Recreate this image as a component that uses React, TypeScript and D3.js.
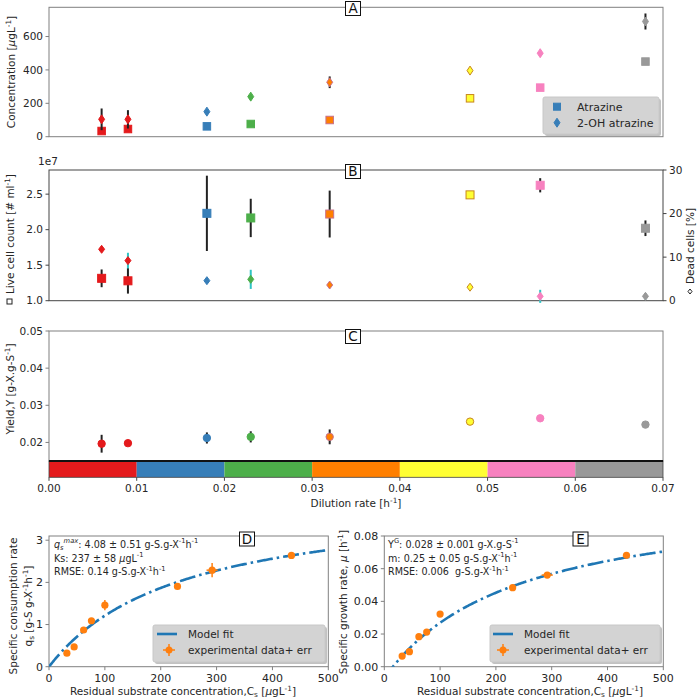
import React from 'react';
import * as d3 from 'd3';

// ---------- data ----------
const dilution = [0.006, 0.009, 0.018, 0.023, 0.032, 0.048, 0.056, 0.068];
const pointColors = ['#e41a1c', '#e41a1c', '#377eb8', '#4daf4a', '#ff7f00', '#ffff33', '#f781bf', '#999999'];
const edgeColors = ['#e41a1c', '#e41a1c', '#377eb8', '#4daf4a', '#c8708a', '#c8861e', '#f781bf', '#999999'];

const atrazine = [34, 46, 62, 76, 100, 230, 294, 450];
const hydroxyAtrazine = [104, 104, 150, 240, 326, 396, 500, 690];
const hydroxyAtrazineErr = [65, 55, 8, 8, 35, 5, 8, 48];

const liveCells = [1.315, 1.28, 2.23, 2.165, 2.22, 2.49, 2.625, 2.02]; // x 1e7
const liveCellsErr = [0.125, 0.18, 0.53, 0.27, 0.33, 0.03, 0.1, 0.11];
const deadCells = [11.8, 9.2, 4.6, 4.9, 3.6, 3.1, 1.0, 1.0];
const deadCellsErr = [0.5, 1.8, 0.5, 2.2, 0.5, 0.3, 1.5, 0.7];

const yieldVals = [0.01965, 0.0198, 0.0212, 0.0215, 0.0215, 0.0256, 0.0265, 0.0248];
const yieldErr = [0.0024, 0, 0.0015, 0.0015, 0.002, 0, 0, 0];

const colorbarBins = [0, 0.01, 0.02, 0.03, 0.04, 0.05, 0.06, 0.07];
const colorbarColors = ['#e41a1c', '#377eb8', '#4daf4a', '#ff7f00', '#ffff33', '#f781bf', '#999999'];

const residualCs = [32, 45, 62, 76, 100, 230, 292, 434];
const residualCsErr = [2, 2, 2, 3, 3, 4, 10, 5];
const qsVals = [0.32, 0.47, 0.87, 1.09, 1.46, 1.905, 2.29, 2.64];
const qsErr = [0.03, 0.03, 0.05, 0.05, 0.12, 0.05, 0.17, 0.05];
const muVals = [0.0065, 0.0092, 0.0184, 0.0212, 0.0322, 0.0484, 0.0561, 0.0682];
const muErr = [0.0015, 0.0015, 0.0015, 0.0015, 0.0018, 0.0015, 0.0015, 0.0015];

const qsMax = 4.08;
const Ks = 237;
const YG = 0.028;
const mMaint = 0.25;

const ticksA = [0, 200, 400, 600];
const ticksBLeft = [1.0, 1.5, 2.0, 2.5];
const ticksBRight = [0, 10, 20, 30];
const ticksC = [0.02, 0.03, 0.04, 0.05];
const ticksDil = [0, 0.01, 0.02, 0.03, 0.04, 0.05, 0.06, 0.07];
const ticksCs = [0, 100, 200, 300, 400, 500];
const ticksQs = [0, 1, 2, 3];
const ticksMu = [0, 0.02, 0.04, 0.06, 0.08];

// ---------- helpers ----------
const FONT = 'DejaVu Sans, sans-serif';
const TXT = '#262626';

type Part = [string, string?];

function Rich({ x, y, parts, size, anchor = 'start', rotate = 0, fill = TXT }:
  { x: number; y: number; parts: Part[]; size: number; anchor?: string; rotate?: number; fill?: string }) {
  const off = (m: string) => (m.includes('^') ? -size * 0.42 : m.includes('_') ? size * 0.22 : 0);
  let prev = '';
  const kids = parts.map(([t, m = ''], i) => {
    const dy = off(m) - off(prev);
    prev = m;
    const small = m.includes('^') || m.includes('_');
    return (
      <tspan key={i} dy={dy} fontSize={small ? size * 0.7 : size} fontStyle={m.includes('i') ? 'italic' : 'normal'}>
        {t}
      </tspan>
    );
  });
  return (
    <text x={x} y={y} fontSize={size} fill={fill} fontFamily={FONT} textAnchor={anchor as any}
      transform={rotate ? `rotate(${rotate},${x},${y})` : undefined} style={{ whiteSpace: 'pre' }}>
      {kids}
    </text>
  );
}

function Frame({ x0, x1, y0, y1, color = '#808080' }: any) {
  return <rect x={x0} y={y0} width={x1 - x0} height={y1 - y0} fill="none" stroke={color} strokeWidth={1} />;
}

function YTicks({ scale, ticks, x, fmt, side = 'left', color = '#808080', size = 10.5 }: any) {
  return (
    <g>
      {ticks.map((t: number, i: number) => {
        const y = scale(t);
        const dir = side === 'left' ? -1 : 1;
        return (
          <g key={i}>
            <line x1={x} x2={x + dir * 3.5} y1={y} y2={y} stroke={color} />
            <text x={x + dir * 6} y={y} dy="0.35em" fontSize={size} fill={TXT} fontFamily={FONT}
              textAnchor={side === 'left' ? 'end' : 'start'}>{fmt(t)}</text>
          </g>
        );
      })}
    </g>
  );
}

function XTicks({ scale, ticks, y, fmt, color = '#808080', size = 10.5 }: any) {
  return (
    <g>
      {ticks.map((t: number, i: number) => {
        const x = scale(t);
        return (
          <g key={i}>
            <line x1={x} x2={x} y1={y} y2={y + 3.5} stroke={color} />
            <text x={x} y={y + 6} dy="0.8em" fontSize={size} fill={TXT} fontFamily={FONT} textAnchor="middle">{fmt(t)}</text>
          </g>
        );
      })}
    </g>
  );
}

function Square({ x, y, s, fill, stroke }: any) {
  return <rect x={x - s / 2} y={y - s / 2} width={s} height={s} fill={fill} stroke={stroke} strokeWidth={1} />;
}
function Diamond({ x, y, w, h, fill, stroke }: any) {
  return <polygon points={`${x},${y - h / 2} ${x + w / 2},${y} ${x},${y + h / 2} ${x - w / 2},${y}`} fill={fill} stroke={stroke} strokeWidth={1} />;
}

function PanelLabel({ x, y, label }: any) {
  return (
    <g>
      <rect x={x - 7.5} y={y - 7} width={15} height={14} fill="#fff" stroke="#111" strokeWidth={1} />
      <text x={x} y={y} dy="0.36em" fontSize={13.5} fontFamily={FONT} textAnchor="middle" fill="#111">{label}</text>
    </g>
  );
}

function VErr({ x, y0, y1, color, w = 2 }: any) {
  return <line x1={x} x2={x} y1={y0} y2={y1} stroke={color} strokeWidth={w} />;
}

export default function App() {
  const xDil = d3.scaleLinear().domain([0, 0.07]).range([49, 663]);

  // Panel A
  const yA = d3.scaleLinear().domain([0, 775]).range([136.7, 7.3]);
  // Panel B
  const yB = d3.scaleLinear().domain([1.0, 2.84]).range([300.7, 170]);
  const yB2 = d3.scaleLinear().domain([0, 30]).range([300.7, 170]);
  // Panel C
  const yC = d3.scaleLinear().domain([0.015, 0.05]).range([461, 331]);
  // Panel D
  const xD = d3.scaleLinear().domain([0, 500]).range([49, 328.3]);
  const yD = d3.scaleLinear().domain([0, 3.1]).range([666.7, 536]);
  // Panel E
  const xE = d3.scaleLinear().domain([0, 500]).range([384.3, 663.3]);
  const yE = d3.scaleLinear().domain([0, 0.08]).range([666.7, 536]);

  const csGrid = d3.range(0, 501, 2);
  const qsModel = (c: number) => (qsMax * c) / (Ks + c);
  const muModel = (c: number) => YG * (qsModel(c) - mMaint);

  const lineD = d3.line<number>().x((c) => xD(c)).y((c) => yD(qsModel(c)));
  const lineE = d3.line<number>().x((c) => xE(c)).y((c) => yE(muModel(c)));

  const blue = '#1f77b4';
  const orange = '#ff7f0e';
  const dash = '16,4,2.5,4';

  const fmt0 = d3.format('d');
  const fmt1 = d3.format('.1f');
  const fmt2 = d3.format('.2f');

  const errMarker = (x: number, y: number, key: any) => (
    <g key={key}>
      <line x1={x - 6} x2={x + 6} y1={y} y2={y} stroke={orange} strokeWidth={1.5} />
      <line x1={x} x2={x} y1={y - 6} y2={y + 6} stroke={orange} strokeWidth={1.5} />
      <circle cx={x} cy={y} r={3.5} fill={orange} />
    </g>
  );

  const ann = 9.6;

  return (
    <svg width={698} height={698} style={{ position: 'absolute', left: 0, top: 0, background: '#fff' }}
      fontFamily={FONT}>
      <defs>
        <clipPath id="clipD"><rect x={49} y={536} width={279.3} height={130.7} /></clipPath>
        <clipPath id="clipE"><rect x={384.3} y={536} width={279} height={130.7} /></clipPath>
      </defs>

      {/* ===== Panel A ===== */}
      <Frame x0={49} x1={663} y0={7.3} y1={136.7} />
      <YTicks scale={yA} ticks={ticksA} x={49} fmt={fmt0} />
      <Rich x={15} y={72} rotate={-90} anchor="middle" size={10.5}
        parts={[['Concentration ['], ['µ', 'i'], ['gL'], ['-1', '^'], [']']]} />
      {dilution.map((d, i) => (
        <g key={'a' + i}>
          <Square x={xDil(d)} y={yA(atrazine[i])} s={7.5} fill={pointColors[i]} stroke={edgeColors[i]} />
          {hydroxyAtrazineErr[i] > 0 && (
            <VErr x={xDil(d)} y0={yA(hydroxyAtrazine[i] - hydroxyAtrazineErr[i])}
              y1={yA(hydroxyAtrazine[i] + hydroxyAtrazineErr[i])} color="#222" />
          )}
          <Diamond x={xDil(d)} y={yA(hydroxyAtrazine[i])} w={6} h={9} fill={pointColors[i]} stroke={edgeColors[i]} />
        </g>
      ))}
      {/* legend A */}
      <rect x={545} y={99} width={116} height={37} rx={2} fill="#999" opacity={0.6} />
      <rect x={543} y={97} width={116} height={37} rx={2} fill="#d3d3d3" stroke="#c8c8c8" />
      <Square x={557} y={106.7} s={7} fill="#377eb8" stroke="#377eb8" />
      <Diamond x={557} y={122.7} w={6} h={9} fill="#377eb8" stroke="#377eb8" />
      <text x={577} y={106.7} dy="0.36em" fontSize={11} fill={TXT}>Atrazine</text>
      <text x={577} y={122.7} dy="0.36em" fontSize={11} fill={TXT}>2-OH atrazine</text>
      <PanelLabel x={353} y={8.5} label="A" />

      {/* ===== Panel B ===== */}
      <Frame x0={49} x1={663} y0={170} y1={300.7} color="#444" />
      <YTicks scale={yB} ticks={ticksBLeft} x={49} fmt={fmt1} color="#444" />
      <YTicks scale={yB2} ticks={ticksBRight} x={663} fmt={fmt0} side="right" color="#444" />
      <text x={38} y={165} fontSize={10.5} fill={TXT}>1e7</text>
      <g>
        <rect x={7} y={299} width={5} height={5} fill="none" stroke="#222" strokeWidth={1} />
        <Rich x={14} y={294} rotate={-90} anchor="start" size={10.5}
          parts={[['Live cell count [# ml'], ['-1', '^'], [']']]} />
      </g>
      <g>
        <Diamond x={690} y={291.5} w={4} h={5} fill="none" stroke="#222" />
        <Rich x={694} y={284} rotate={-90} anchor="start" size={10.5}
          parts={[['Dead cells [%]']]} />
      </g>
      {dilution.map((d, i) => (
        <g key={'b' + i}>
          <VErr x={xDil(d)} y0={yB(liveCells[i] - liveCellsErr[i])} y1={yB(liveCells[i] + liveCellsErr[i])} color="#222" />
          <Square x={xDil(d)} y={yB(liveCells[i])} s={8} fill={pointColors[i]} stroke={edgeColors[i]} />
          <VErr x={xDil(d)} y0={yB2(deadCells[i] - deadCellsErr[i])} y1={yB2(deadCells[i] + deadCellsErr[i])} color="#2ec4c4" />
          <Diamond x={xDil(d)} y={yB2(deadCells[i])} w={6} h={8} fill={pointColors[i]} stroke={edgeColors[i]} />
        </g>
      ))}
      <PanelLabel x={353} y={171.5} label="B" />

      {/* ===== Panel C ===== */}
      <Frame x0={49} x1={663} y0={331} y1={461} />
      <YTicks scale={yC} ticks={ticksC} x={49} fmt={fmt2} />
      <Rich x={14} y={389} rotate={-90} anchor="middle" size={10.5}
        parts={[['Yield,Y [g-X.g-S'], ['-1', '^'], [']']]} />
      {dilution.map((d, i) => (
        <g key={'c' + i}>
          {yieldErr[i] > 0 && (
            <VErr x={xDil(d)} y0={yC(yieldVals[i] - yieldErr[i])} y1={yC(yieldVals[i] + yieldErr[i])} color="#222" />
          )}
          <circle cx={xDil(d)} cy={yC(yieldVals[i])} r={3.7} fill={pointColors[i]} stroke={edgeColors[i]} strokeWidth={1} />
        </g>
      ))}
      <PanelLabel x={353} y={336.5} label="C" />
      {/* colorbar */}
      {colorbarColors.map((c, i) => (
        <rect key={'cb' + i} x={xDil(colorbarBins[i])} y={461} width={xDil(colorbarBins[i + 1]) - xDil(colorbarBins[i])}
          height={16.3} fill={c} />
      ))}
      <rect x={49} y={461} width={614} height={16.3} fill="none" stroke="#444" strokeWidth={0.8} />
      <line x1={49} x2={663} y1={461} y2={461} stroke="#111" strokeWidth={1.8} />
      <XTicks scale={xDil} ticks={ticksDil} y={477.3} fmt={fmt2} color="#444" />
      <Rich x={356} y={507} anchor="middle" size={10.5}
        parts={[['Dilution rate [h'], ['-1', '^'], [']']]} />

      {/* ===== Panel D ===== */}
      <Frame x0={49} x1={328.3} y0={536} y1={666.7} />
      <YTicks scale={yD} ticks={ticksQs} x={49} fmt={fmt0} size={11} />
      <XTicks scale={xD} ticks={ticksCs} y={666.7} fmt={fmt0} size={11} />
      <Rich x={17} y={606} rotate={-90} anchor="middle" size={10.5} parts={[['Specific consumption rate']]} />
      <Rich x={32} y={606} rotate={-90} anchor="middle" size={10.5}
        parts={[['q'], ['s', '_'], [' [g-S g-X'], ['-1', '^'], ['h'], ['-1', '^'], [']']]} />
      <Rich x={183} y={695} anchor="middle" size={10.5}
        parts={[['Residual substrate concentration,C'], ['s', '_'], [' ['], ['µ', 'i'], ['gL'], ['-1', '^'], [']']]} />
      <path d={lineD(csGrid) || ''} fill="none" stroke={blue} strokeWidth={2.6} strokeDasharray={dash} clipPath="url(#clipD)" />
      {residualCs.map((c, i) => (
        <g key={'d' + i}>
          <line x1={xD(c - residualCsErr[i])} x2={xD(c + residualCsErr[i])} y1={yD(qsVals[i])} y2={yD(qsVals[i])} stroke={orange} strokeWidth={1.5} />
          <line x1={xD(c)} x2={xD(c)} y1={yD(qsVals[i] - qsErr[i])} y2={yD(qsVals[i] + qsErr[i])} stroke={orange} strokeWidth={1.5} />
          <circle cx={xD(c)} cy={yD(qsVals[i])} r={3.6} fill={orange} />
        </g>
      ))}
      <Rich x={54} y={547.5} size={ann}
        parts={[['q', 'i'], ['s', '_i'], ['max', '^i'], [': 4.08 ± 0.51 g-S.g-X'], ['-1', '^'], ['h'], ['-1', '^']]} />
      <Rich x={54} y={561.5} size={ann} parts={[['Ks: 237 ± 58 '], ['µ', 'i'], ['gL'], ['-1', '^']]} />
      <Rich x={54} y={575} size={ann} parts={[['RMSE: 0.14 g-S.g-X'], ['-1', '^'], ['h'], ['-1', '^']]} />
      <PanelLabel x={247} y={539} label="D" />
      {/* legend D */}
      <rect x={155} y={627} width={172} height={37} rx={2} fill="#999" opacity={0.6} />
      <rect x={153} y={625} width={172} height={37} rx={2} fill="#d3d3d3" stroke="#c8c8c8" />
      <line x1={157} x2={177} y1={634} y2={634} stroke={blue} strokeWidth={2.6} />
      {errMarker(169, 650, 'lgd')}
      <text x={188} y={634} dy="0.36em" fontSize={10.5} fill={TXT}>Model fit</text>
      <text x={188} y={650} dy="0.36em" fontSize={10.5} fill={TXT}>experimental data+ err</text>

      {/* ===== Panel E ===== */}
      <Frame x0={384.3} x1={663.3} y0={536} y1={666.7} />
      <YTicks scale={yE} ticks={ticksMu} x={384.3} fmt={fmt2} size={11} />
      <XTicks scale={xE} ticks={ticksCs} y={666.7} fmt={fmt0} size={11} />
      <Rich x={347} y={602} rotate={-90} anchor="middle" size={10.5}
        parts={[['Specific growth rate, '], ['µ', 'i'], [' [h'], ['-1', '^'], [']']]} />
      <Rich x={530} y={695} anchor="middle" size={10.5}
        parts={[['Residual substrate concentration,C'], ['s', '_'], [' ['], ['µ', 'i'], ['gL'], ['-1', '^'], [']']]} />
      <path d={lineE(csGrid) || ''} fill="none" stroke={blue} strokeWidth={2.6} strokeDasharray={dash} clipPath="url(#clipE)" />
      {residualCs.map((c, i) => (
        <g key={'e' + i}>
          <line x1={xE(c - residualCsErr[i])} x2={xE(c + residualCsErr[i])} y1={yE(muVals[i])} y2={yE(muVals[i])} stroke={orange} strokeWidth={1.5} />
          <line x1={xE(c)} x2={xE(c)} y1={yE(muVals[i] - muErr[i])} y2={yE(muVals[i] + muErr[i])} stroke={orange} strokeWidth={1.5} />
          <circle cx={xE(c)} cy={yE(muVals[i])} r={3.6} fill={orange} />
        </g>
      ))}
      <Rich x={388} y={547.5} size={ann}
        parts={[['Y'], ['G', '^'], [': 0.028 ± 0.001 g-X.g-S'], ['-1', '^']]} />
      <Rich x={388} y={561.5} size={ann} parts={[['m: 0.25 ± 0.05 g-S.g-X'], ['-1', '^'], ['h'], ['-1', '^']]} />
      <Rich x={388} y={575} size={ann} parts={[['RMSE: 0.006  g-S.g-X'], ['-1', '^'], ['h'], ['-1', '^']]} />
      <PanelLabel x={580.5} y={539} label="E" />
      {/* legend E */}
      <rect x={492} y={627} width={170} height={37} rx={2} fill="#999" opacity={0.6} />
      <rect x={490} y={625} width={170} height={37} rx={2} fill="#d3d3d3" stroke="#c8c8c8" />
      <line x1={493} x2={513} y1={634} y2={634} stroke={blue} strokeWidth={2.6} />
      {errMarker(503, 650, 'lge')}
      <text x={524} y={634} dy="0.36em" fontSize={10.5} fill={TXT}>Model fit</text>
      <text x={524} y={650} dy="0.36em" fontSize={10.5} fill={TXT}>experimental data+ err</text>
    </svg>
  );
}
